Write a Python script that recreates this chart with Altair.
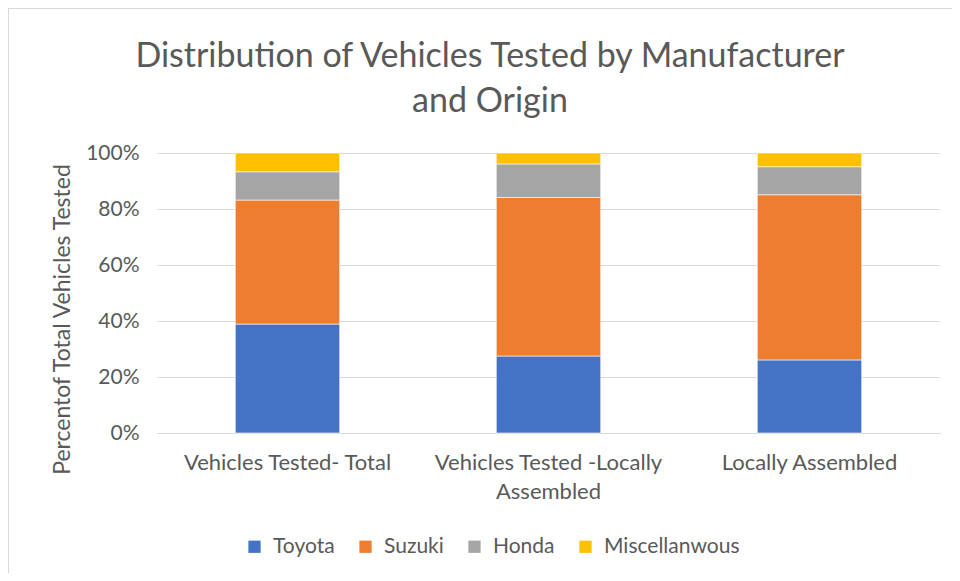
import altair as alt
import pandas as pd

categories = ["Vehicles Tested- Total", "Vehicles Tested -Locally Assembled", "Locally Assembled"]
makers = ["Toyota", "Suzuki", "Honda", "Miscellanwous"]
toyota = [38.9, 27.5, 26.1]
suzuki = [44.3, 56.6, 59.0]
honda = [10.1, 12.0, 10.0]
misc = [6.7, 3.9, 4.9]
colors = ["#4472C4", "#ED7D31", "#A5A5A5", "#FFC000"]
title_lines = ["Distribution of Vehicles Tested by Manufacturer", "and Origin"]

rows = []
for series_i, (m, vals) in enumerate(zip(makers, [toyota, suzuki, honda, misc])):
    for c, v in zip(categories, vals):
        rows.append({"Category": c, "Maker": m, "Value": v / 100.0, "order": series_i})
df = pd.DataFrame(rows)
one = pd.DataFrame({"k": [0]})

FONT = "Lato"
GRAY = "#595959"

bars = alt.Chart(df).mark_bar(stroke="white", strokeWidth=0.6).encode(
    x=alt.X("Category:N", sort=categories,
            scale=alt.Scale(paddingInner=0.6, paddingOuter=0.3),
            axis=alt.Axis(title=None, labelAngle=0, labelFontSize=22, labelColor=GRAY,
                          labelFont=FONT, labelPadding=19, labelLineHeight=29, labelLimit=0,
                          labelExpr="datum.value == 'Vehicles Tested -Locally Assembled' ? ['Vehicles Tested -Locally', 'Assembled'] : datum.value",
                          ticks=False, domain=True, domainColor="#d9d9d9", grid=False)),
    y=alt.Y("Value:Q", stack="zero", scale=alt.Scale(domain=[0, 1]),
            axis=alt.Axis(title="Percentof Total Vehicles Tested", format=".0%",
                          values=[0, 0.2, 0.4, 0.6, 0.8, 1.0], labelOverlap=False,
                          labelFontSize=21, labelColor=GRAY, labelFont=FONT, labelPadding=18,
                          titleFontSize=23, titleColor=GRAY, titleFont=FONT, titleFontWeight="normal",
                          titleX=-95, titleY=166, titleAngle=-90, titleBaseline="middle",
                          ticks=False, domain=False, gridColor="#d9d9d9", gridWidth=1)),
    color=alt.Color("Maker:N", sort=makers,
                    scale=alt.Scale(domain=makers, range=colors),
                    legend=alt.Legend(title=None, orient="none", direction="horizontal",
                                      legendX=87, legendY=383, symbolType="square",
                                      symbolSize=150, labelFontSize=21, labelColor=GRAY,
                                      labelFont=FONT, columnPadding=20, labelOffset=8,
                                      symbolStrokeWidth=0)),
    order=alt.Order("order:Q", sort="ascending"),
)

title = alt.Chart(one).mark_text(
    text=title_lines, font=FONT, fontSize=34, color=GRAY, lineHeight=45,
    align="center", baseline="top"
).encode(x=alt.value(333), y=alt.value(-113))

# Chart-area border (top and left edges visible in the reference)
border_top = alt.Chart(one).mark_rule(color="#d9d9d9", strokeWidth=2).encode(
    x=alt.value(-149), x2=alt.value(803), y=alt.value(-145)
)
border_left = alt.Chart(one).mark_rule(color="#d9d9d9", strokeWidth=2).encode(
    x=alt.value(-149), y=alt.value(-145), y2=alt.value(428)
)

chart = alt.layer(bars, title, border_top, border_left).properties(
    width=783, height=280,
    autosize=alt.AutoSizeParams(type="none"),
    padding={"left": 149, "top": 145, "right": 12, "bottom": 140},
).configure_view(stroke=None)

chart.save("out.html", embed_options={"renderer": "svg", "actions": False})
